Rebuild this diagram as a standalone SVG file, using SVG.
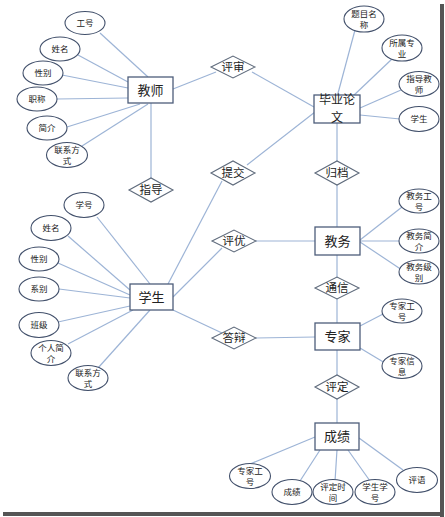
<svg xmlns="http://www.w3.org/2000/svg" width="445" height="517" viewBox="0 0 445 517">
<style>
.c line{stroke:#9db4d6;stroke-width:1.2}
.e{fill:#fff;stroke:#42506b;stroke-width:1.1}
.b{fill:#fff;stroke:#4d5d7a;stroke-width:1.3}
.d{fill:#fff;stroke:#5f6b7c;stroke-width:1.1}
text{font-family:"Noto Sans CJK SC","Noto Sans",sans-serif;fill:#222;text-anchor:middle}
.te{font-size:8.5px}
.tb{font-size:13px}
.tt{font-size:12px}
.td{font-size:11.5px}
</style>
<rect x="0" y="0" width="445" height="517" fill="#fff"/>
<rect x="440" y="4" width="4" height="513" fill="#555"/>
<rect x="3" y="512" width="441" height="4" fill="#555"/>
<g class="c">
<line x1="100" y1="33" x2="148" y2="77"/>
<line x1="78" y1="55" x2="128" y2="82"/>
<line x1="62" y1="75" x2="128" y2="88"/>
<line x1="57" y1="99" x2="128" y2="98"/>
<line x1="67" y1="127" x2="140" y2="104"/>
<line x1="82" y1="146" x2="148" y2="104"/>
<line x1="151" y1="103" x2="151" y2="179"/>
<line x1="173" y1="89" x2="216" y2="72"/>
<line x1="252" y1="72" x2="314" y2="107"/>
<line x1="355" y1="30" x2="337" y2="97"/>
<line x1="392" y1="59" x2="352" y2="97"/>
<line x1="401" y1="90" x2="360" y2="108"/>
<line x1="400" y1="119" x2="360" y2="115"/>
<line x1="247" y1="165" x2="315" y2="112"/>
<line x1="222" y1="181" x2="168" y2="284"/>
<line x1="337" y1="123" x2="337" y2="162"/>
<line x1="337" y1="184" x2="337" y2="227"/>
<line x1="360" y1="240" x2="402" y2="207"/>
<line x1="360" y1="241" x2="400" y2="241"/>
<line x1="360" y1="242" x2="402" y2="270"/>
<line x1="256" y1="241" x2="315" y2="241"/>
<line x1="222" y1="248" x2="173" y2="297"/>
<line x1="337" y1="255" x2="337" y2="278"/>
<line x1="337" y1="299" x2="337" y2="323"/>
<line x1="360" y1="326" x2="385" y2="313"/>
<line x1="360" y1="348" x2="385" y2="363"/>
<line x1="256" y1="338" x2="315" y2="337"/>
<line x1="173" y1="310" x2="222" y2="333"/>
<line x1="337" y1="350" x2="337" y2="376"/>
<line x1="337" y1="399" x2="337" y2="423"/>
<line x1="315" y1="437" x2="250" y2="464"/>
<line x1="320" y1="450" x2="300" y2="481"/>
<line x1="337" y1="450" x2="335" y2="481"/>
<line x1="348" y1="450" x2="370" y2="481"/>
<line x1="359" y1="438" x2="403" y2="470"/>
<line x1="97" y1="217" x2="150" y2="284"/>
<line x1="68" y1="236" x2="130" y2="290"/>
<line x1="58" y1="263" x2="130" y2="295"/>
<line x1="59" y1="289" x2="130" y2="298"/>
<line x1="58" y1="322" x2="130" y2="306"/>
<line x1="68" y1="344" x2="133" y2="310"/>
<line x1="98" y1="368" x2="150" y2="310"/>
</g>
<g id="teacher"><rect class="b" x="128" y="77" width="45" height="26"/><text class="tb" x="150.5" y="95">教师</text></g>
<g id="t-gonghao"><ellipse class="e" cx="85" cy="23" rx="20" ry="11.5"/><text class="te" x="85" y="26">工号</text></g>
<g id="t-xingming"><ellipse class="e" cx="60" cy="49" rx="20" ry="12"/><text class="te" x="60" y="52">姓名</text></g>
<g id="t-xingbie"><ellipse class="e" cx="43" cy="73" rx="20" ry="12"/><text class="te" x="43" y="76">性别</text></g>
<g id="t-zhicheng"><ellipse class="e" cx="37" cy="99" rx="20" ry="12"/><text class="te" x="37" y="102">职称</text></g>
<g id="t-jianjie"><ellipse class="e" cx="47" cy="128" rx="20" ry="12"/><text class="te" x="47" y="131">简介</text></g>
<g id="t-lianxi"><ellipse class="e" cx="67" cy="155" rx="20.5" ry="12.5"/><text class="te" x="67" y="153">联系方</text><text class="te" x="67" y="164">式</text></g>
<g id="pingshen"><polygon class="d" points="211,67 233,56 255,67 233,78"/><text class="td" x="233" y="71">评审</text></g>
<g id="zhidao"><polygon class="d" points="129,190 151,178 173,190 151,202"/><text class="td" x="151" y="194">指导</text></g>
<g id="thesis"><rect class="b" x="314" y="95" width="46" height="28"/><text class="tt" x="337" y="104">毕业论</text><text class="tt" x="337" y="121.5">文</text></g>
<g id="p-timu"><ellipse class="e" cx="364" cy="19" rx="20" ry="13"/><text class="te" x="364" y="17">题目名</text><text class="te" x="364" y="28">称</text></g>
<g id="p-zhuanye"><ellipse class="e" cx="402" cy="48" rx="20" ry="13"/><text class="te" x="402" y="46">所属专</text><text class="te" x="402" y="57">业</text></g>
<g id="p-zhidao"><ellipse class="e" cx="419" cy="84" rx="20" ry="12.5"/><text class="te" x="419" y="82">指导教</text><text class="te" x="419" y="93">师</text></g>
<g id="p-xuesheng"><ellipse class="e" cx="419" cy="119" rx="20" ry="12.5"/><text class="te" x="419" y="122">学生</text></g>
<g id="tijiao"><polygon class="d" points="211,173 233,161 255,173 233,185"/><text class="td" x="233" y="177">提交</text></g>
<g id="guidang"><polygon class="d" points="315,173 337,161 359,173 337,185"/><text class="td" x="337" y="177">归档</text></g>
<g id="jiaowu"><rect class="b" x="315" y="227" width="45" height="28"/><text class="tb" x="337.5" y="246">教务</text></g>
<g id="j-gonghao"><ellipse class="e" cx="419" cy="201" rx="20" ry="12"/><text class="te" x="419" y="199">教务工</text><text class="te" x="419" y="210">号</text></g>
<g id="j-jianjie"><ellipse class="e" cx="419" cy="241" rx="20" ry="12"/><text class="te" x="419" y="239">教务简</text><text class="te" x="419" y="250">介</text></g>
<g id="j-jibie"><ellipse class="e" cx="419" cy="272" rx="20" ry="12"/><text class="te" x="419" y="270">教务级</text><text class="te" x="419" y="281">别</text></g>
<g id="pingyou"><polygon class="d" points="212,241 234,230 256,241 234,252"/><text class="td" x="234" y="245">评优</text></g>
<g id="tongxin"><polygon class="d" points="315,288 337,277 359,288 337,299"/><text class="td" x="337" y="292">通信</text></g>
<g id="zhuanjia"><rect class="b" x="315" y="323" width="45" height="27"/><text class="tb" x="337.5" y="341">专家</text></g>
<g id="z-gonghao"><ellipse class="e" cx="402" cy="311" rx="20" ry="12"/><text class="te" x="402" y="309">专家工</text><text class="te" x="402" y="320">号</text></g>
<g id="z-xinxi"><ellipse class="e" cx="402" cy="366" rx="20" ry="12.5"/><text class="te" x="402" y="364">专家信</text><text class="te" x="402" y="375">息</text></g>
<g id="dabian"><polygon class="d" points="212,338 234,327 256,338 234,349"/><text class="td" x="234" y="342">答辩</text></g>
<g id="pingding"><polygon class="d" points="315,387 337,375 359,387 337,399"/><text class="td" x="337" y="391">评定</text></g>
<g id="chengji"><rect class="b" x="315" y="423" width="44" height="27"/><text class="tb" x="337" y="441">成绩</text></g>
<g id="c-zhuanjia"><ellipse class="e" cx="250" cy="476" rx="20.5" ry="12.5"/><text class="te" x="250" y="474">专家工</text><text class="te" x="250" y="485">号</text></g>
<g id="c-chengji"><ellipse class="e" cx="292" cy="492" rx="20" ry="12.5"/><text class="te" x="292" y="495">成绩</text></g>
<g id="c-shijian"><ellipse class="e" cx="333" cy="492" rx="20" ry="12.5"/><text class="te" x="333" y="490">评定时</text><text class="te" x="333" y="501">间</text></g>
<g id="c-xuehao"><ellipse class="e" cx="375" cy="492" rx="20" ry="12.5"/><text class="te" x="375" y="490">学生学</text><text class="te" x="375" y="501">号</text></g>
<g id="c-pingyu"><ellipse class="e" cx="417" cy="480" rx="20.5" ry="12.5"/><text class="te" x="417" y="483">评语</text></g>
<g id="student"><rect class="b" x="130" y="284" width="43" height="26"/><text class="tb" x="151.5" y="302">学生</text></g>
<g id="s-xuehao"><ellipse class="e" cx="84" cy="205" rx="20" ry="12.5"/><text class="te" x="84" y="208">学号</text></g>
<g id="s-xingming"><ellipse class="e" cx="51" cy="228" rx="20" ry="12.5"/><text class="te" x="51" y="231">姓名</text></g>
<g id="s-xingbie"><ellipse class="e" cx="39" cy="259" rx="20" ry="12"/><text class="te" x="39" y="262">性别</text></g>
<g id="s-xibie"><ellipse class="e" cx="39" cy="289" rx="20" ry="12"/><text class="te" x="39" y="292">系别</text></g>
<g id="s-banji"><ellipse class="e" cx="39" cy="325" rx="20" ry="12.5"/><text class="te" x="39" y="328">班级</text></g>
<g id="s-jianjie"><ellipse class="e" cx="51" cy="353" rx="20" ry="12.5"/><text class="te" x="51" y="351">个人简</text><text class="te" x="51" y="362">介</text></g>
<g id="s-lianxi"><ellipse class="e" cx="88" cy="378" rx="20" ry="12.5"/><text class="te" x="88" y="376">联系方</text><text class="te" x="88" y="387">式</text></g>
</svg>
